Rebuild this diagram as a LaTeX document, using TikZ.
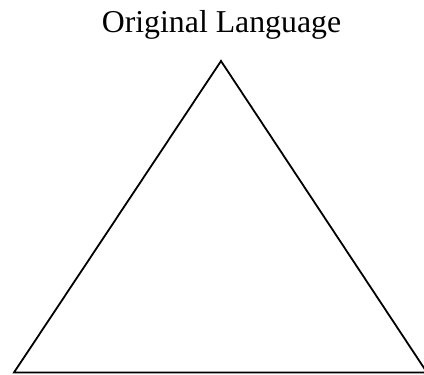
\documentclass[tikz,border=0pt]{standalone}
\usepackage{fontspec}
\setmainfont{Liberation Serif}
\begin{document}
\begin{tikzpicture}[x=1pt,y=1pt,
  tri/.style={draw=black,line width=1.8pt,line join=miter},
  lbl/.style={font=\fontsize{31.8}{36}\selectfont,inner sep=0pt,anchor=base}]
\useasboundingbox (0,0) rectangle (424,375);
\begin{scope}
\clip (0,0) rectangle (424,375);
\coordinate (apex) at (221,314);
\coordinate (bl) at (14,2.5);
\coordinate (br) at (427,2.5);
\draw[tri] (apex) -- (bl) -- (br) -- cycle;
\end{scope}
\node[lbl] (title) at (221.5,342) {Original Language};
\end{tikzpicture}
\end{document}
